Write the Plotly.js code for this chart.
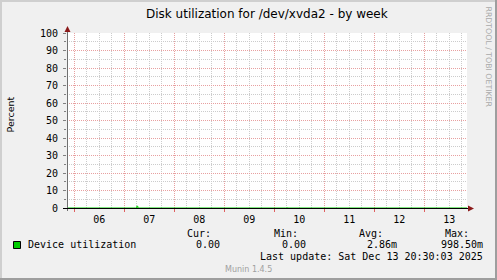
<!DOCTYPE html>
<html>
<head>
<meta charset="utf-8">
<script src="https://cdn.plot.ly/plotly-3.0.1.min.js"></script>
<style>
  html, body { margin: 0; padding: 0; background: #f0f0f0; }
  #chart { width: 497px; height: 280px; }
</style>
</head>
<body>
<div id="chart"></div>
<script>
// ---- data ----
const rangeStart = "2025-12-05 20:30:03";
const rangeEnd = "2025-12-13 20:30:03";
const times = ["2025-12-05 20:30:03", "2025-12-07 05:30", "2025-12-07 06:00", "2025-12-07 06:30",
               "2025-12-10 05:30", "2025-12-10 06:00", "2025-12-10 06:30", "2025-12-13 20:30:03"];
const utilization = [0, 0, 0.9985, 0, 0, 0.0995, 0, 0];
const midnights = ["2025-12-06", "2025-12-07", "2025-12-08", "2025-12-09",
                   "2025-12-10", "2025-12-11", "2025-12-12", "2025-12-13"];
const labelTimes = ["2025-12-06 12:00", "2025-12-07 12:00", "2025-12-08 12:00", "2025-12-09 12:00",
                    "2025-12-10 12:00", "2025-12-11 12:00", "2025-12-12 12:00", "2025-12-13 12:00"];
const dayLabels = ["06", "07", "08", "09", "10", "11", "12", "13"];
const yTicks = [0, 10, 20, 30, 40, 50, 60, 70, 80, 90, 100];
const legendHeaders = ["Cur:", "Min:", "Avg:", "Max:"];
const legendValues = ["0.00", "0.00", "2.86m", "998.50m"];
const seriesName = "Device utilization";
const title = "Disk utilization for /dev/xvda2 - by week";
const yTitle = "Percent";
const lastUpdate = "Last update: Sat Dec 13 20:30:03 2025";
const footer = "Munin 1.4.5";
const watermark = "RRDTOOL / TOBI OETIKER";

// ---- layout helpers (pixel -> paper) ----
const W = 497, H = 280, L = 67, R = 467, T = 33, B = 208;
const px = x => (x - L) / (R - L);
const py = y => (B - y) / (B - T);

const MONO = "DejaVu Sans Mono";
const SANS = "DejaVu Sans";
const dotted = "1px,1px";

const traces = [
  {
    x: times, y: utilization, type: "scatter", mode: "lines",
    line: {color: "#00cc00", width: 1, shape: "hv"},
    hoverinfo: "skip", showlegend: false, xaxis: "x", yaxis: "y"
  },
  {
    x: times, y: utilization, type: "scatter", mode: "lines",
    line: {color: "rgba(0,0,0,0)", width: 0}, opacity: 0,
    hoverinfo: "skip", showlegend: false, xaxis: "x2", yaxis: "y"
  }
];

function txt(x, y, text, opts) {
  return Object.assign({
    xref: "paper", yref: "paper", x: px(x), y: py(y), text: text,
    showarrow: false, xanchor: "left", yanchor: "middle",
    font: {family: MONO, size: 10, color: "#000"}, borderpad: 0
  }, opts || {});
}

const annotations = [
  txt(267, 14, title, {xanchor: "center", font: {family: SANS, size: 12, color: "#000"}}),
  txt(10.5, 115, yTitle, {xanchor: "center", textangle: -90, font: {family: SANS, size: 9.5, color: "#000"}}),
  txt(488.5, 57, watermark, {xanchor: "center", textangle: 90, font: {family: SANS, size: 7.8, color: "#aaaaaa"}}),
  txt(26.5, 244.5, seriesName),
  txt(212, 233, legendHeaders[0], {xanchor: "right"}),
  txt(298.5, 233, legendHeaders[1], {xanchor: "right"}),
  txt(383.5, 233, legendHeaders[2], {xanchor: "right"}),
  txt(469.5, 233, legendHeaders[3], {xanchor: "right"}),
  txt(220.5, 244.5, legendValues[0], {xanchor: "right"}),
  txt(306.5, 244.5, legendValues[1], {xanchor: "right"}),
  txt(397.5, 244.5, legendValues[2], {xanchor: "right"}),
  txt(484, 244.5, legendValues[3], {xanchor: "right"}),
  txt(484, 256.5, lastUpdate, {xanchor: "right"}),
  txt(248.5, 269.5, footer, {xanchor: "center", font: {family: SANS, size: 8, color: "#a0a0a0"}})
];

const shapes = [
  // 3D frame
  {type: "rect", xref: "paper", yref: "paper", x0: px(0), x1: px(2), y0: py(H), y1: py(0), fillcolor: "#cfcfcf", line: {width: 0}},
  {type: "rect", xref: "paper", yref: "paper", x0: px(0), x1: px(W), y0: py(2), y1: py(0), fillcolor: "#cfcfcf", line: {width: 0}},
  {type: "rect", xref: "paper", yref: "paper", x0: px(W - 2), x1: px(W), y0: py(H), y1: py(0), fillcolor: "#9e9e9e", line: {width: 0}},
  {type: "rect", xref: "paper", yref: "paper", x0: px(0), x1: px(W), y0: py(H), y1: py(H - 2), fillcolor: "#9e9e9e", line: {width: 0}},
  // legend swatch
  {type: "rect", xref: "paper", yref: "paper", x0: px(13.5), x1: px(20.5), y0: py(248.5), y1: py(241.5),
   fillcolor: "#00cc00", line: {color: "#000", width: 1}},
  // y axis line
  {type: "line", xref: "paper", yref: "paper", x0: px(67.5), x1: px(67.5), y0: py(211), y1: py(29),
   line: {color: "#707070", width: 1}},
  // x axis line
  {type: "line", xref: "paper", yref: "paper", x0: px(63), x1: px(471), y0: py(208.5), y1: py(208.5),
   line: {color: "#000000", width: 1}},
  // arrows
  {type: "path", xref: "paper", yref: "paper", xsizemode: "pixel", ysizemode: "pixel",
   xanchor: px(67.5), yanchor: py(33), path: "M -3 1 L 3 1 L 0 7 Z",
   fillcolor: "#8b1a1a", line: {color: "#8b1a1a", width: 0}},
  {type: "path", xref: "paper", yref: "paper", xsizemode: "pixel", ysizemode: "pixel",
   xanchor: px(468), yanchor: py(208.5), path: "M 0 -3 L 0 3 L 6 0 Z",
   fillcolor: "#8b1a1a", line: {color: "#8b1a1a", width: 0}}
];

const layout = {
  width: W, height: H,
  margin: {l: L, r: W - R, t: T, b: H - B, pad: 0},
  paper_bgcolor: "#f0f0f0", plot_bgcolor: "#ffffff",
  showlegend: false,
  xaxis: {
    type: "date", range: [rangeStart, rangeEnd], fixedrange: true,
    tickmode: "array", tickvals: midnights, ticktext: midnights.map(() => ""),
    showgrid: true, gridcolor: "#e8a0a0", griddash: dotted, gridwidth: 1,
    ticks: "outside", ticklen: 3, tickcolor: "#e06060", tickwidth: 1,
    showline: false, zeroline: false,
    minor: {tickmode: "linear", tick0: midnights[0], dtick: 6 * 3600 * 1000,
            showgrid: true, gridcolor: "#cccccc", griddash: dotted, gridwidth: 1, ticks: ""}
  },
  xaxis2: {
    type: "date", overlaying: "x", side: "bottom", range: [rangeStart, rangeEnd], fixedrange: true,
    tickmode: "array", tickvals: labelTimes, ticktext: dayLabels,
    showgrid: false, ticks: "", showline: false, zeroline: false,
    tickfont: {family: MONO, size: 10, color: "#000"}, ticklabelstandoff: 4
  },
  yaxis: {
    range: [0, 100], fixedrange: true,
    tickmode: "array", tickvals: yTicks, ticktext: yTicks.map(String),
    showgrid: true, gridcolor: "#e8a0a0", griddash: dotted, gridwidth: 1,
    ticks: "outside", ticklen: 3, tickcolor: "#808080", tickwidth: 1,
    tickfont: {family: MONO, size: 10, color: "#000"}, ticklabelstandoff: 3,
    showline: false, zeroline: false,
    minor: {dtick: 5, tick0: 0, showgrid: true, gridcolor: "#cccccc", griddash: dotted, gridwidth: 1,
            ticks: "outside", ticklen: 2, tickcolor: "#808080"}
  },
  annotations: annotations,
  shapes: shapes
};

Plotly.newPlot("chart", traces, layout, {staticPlot: true, displayModeBar: false});
</script>
</body>
</html>
